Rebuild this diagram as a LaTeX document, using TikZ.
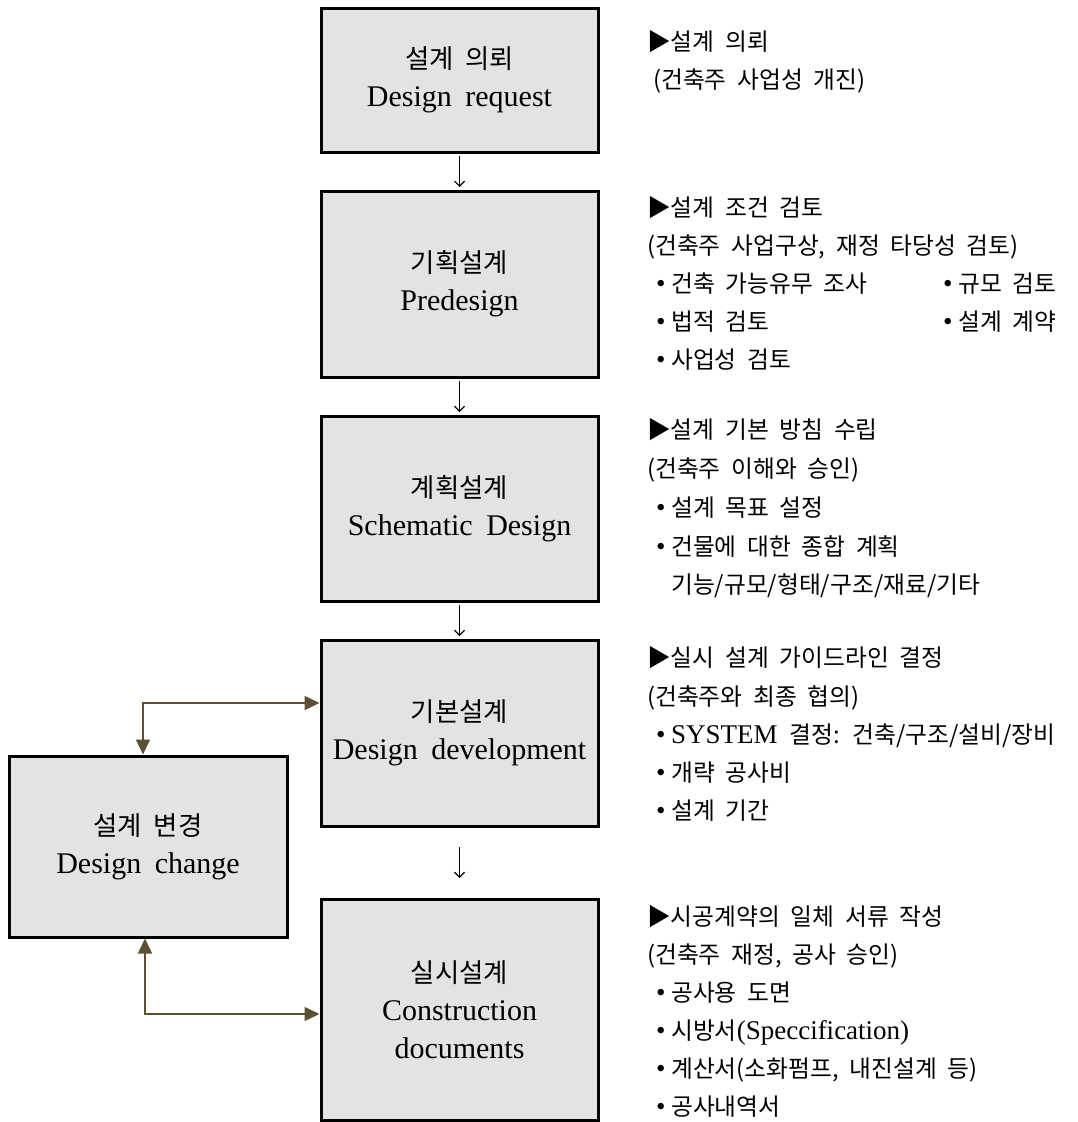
\documentclass[tikz,border=0pt]{standalone}
\usepackage{fontspec}
\setmainfont{Liberation Serif}[WordSpace=1.8]
\newfontfamily\kr{Noto Sans CJK KR}[Scale=0.88,WordSpace=2]
\usetikzlibrary{arrows.meta,calc}
\definecolor{boxfill}{HTML}{E3E3E3}
\definecolor{conn}{HTML}{5C5032}
\newcommand\bul{\makebox[15pt][l]{•}}
\tikzset{
  stage/.style={draw=black, line width=3pt, fill=boxfill, minimum width=277pt,
    align=center, inner sep=0pt, font=\fontsize{30}{38}\selectfont},
  rtext/.style={anchor=base west, inner sep=0pt, font=\fontsize{27}{38}\selectfont},
  darr/.style={draw=black, line width=1.1pt, -{Straight Barb[length=5pt,width=10pt]}},
  bconn/.style={draw=conn, line width=1.6pt, {Triangle[length=15pt,width=14pt]}-{Triangle[length=15pt,width=14pt]}}
}
\newcommand\rl[4]{\node[rtext] (#1) at (#2,#3) {#4};}
\begin{document}
\begin{tikzpicture}[x=1pt,y=-1pt]
\useasboundingbox (0,0) rectangle (1078,1122);
% stage boxes
\node[stage, minimum height=144pt] (b1) at (459.5,80) {{\kr 설계 의뢰}\\Design request};
\node[stage, minimum height=186pt] (b2) at (459.5,284) {{\kr 기획설계}\\Predesign};
\node[stage, minimum height=185pt] (b3) at (459.5,508.5) {{\kr 계획설계}\\Schematic Design};
\node[stage, minimum height=186pt] (b4) at (459.5,733) {{\kr 기본설계}\\Design development};
\node[stage, minimum height=221pt] (b5) at (459.5,1009.5) {{\kr 실시설계}\\Construction\\documents};
\node[stage, minimum width=278pt, minimum height=181pt] (dc) at (148,846.5) {{\kr 설계 변경}\\Design change};
% down arrows
\foreach \a/\b in {b1/b2,b2/b3,b3/b4,b4/b5}{
  \coordinate (m-\a) at ($(\a.south)!0.5!(\b.north)$);
  \draw[darr] ([yshift=15.5pt]m-\a) -- ([yshift=-15.5pt]m-\a);
}
% design change connectors
\coordinate (c1) at (143,703);
\coordinate (c2) at (145,1014);
\draw[bconn] (dc.north -| c1) -- (c1) -- (c1 -| b4.west);
\draw[bconn] (dc.south -| c2) -- (c2) -- (c2 -| b5.west);
% right-hand texts
\rl{r1a}{647}{50}{\kr ▶설계 의뢰}
\rl{r1b}{653}{88}{\kr (건축주 사업성 개진)}
\rl{r2a}{647}{216}{\kr ▶설계 조건 검토}
\rl{r2b}{647}{254}{\kr (건축주 사업구상, 재정 타당성 검토)}
\rl{r2c}{656}{292}{\bul{\kr 건축 가능유무 조사}}
\rl{r2d}{943}{292}{\bul{\kr 규모 검토}}
\rl{r2e}{656}{330}{\bul{\kr 법적 검토}}
\rl{r2f}{943}{330}{\bul{\kr 설계 계약}}
\rl{r2g}{656}{368}{\bul{\kr 사업성 검토}}
\rl{r3a}{647}{438}{\kr ▶설계 기본 방침 수립}
\rl{r3b}{647}{477}{\kr (건축주 이해와 승인)}
\rl{r3c}{656}{516}{\bul{\kr 설계 목표 설정}}
\rl{r3d}{656}{555}{\bul{\kr 건물에 대한 종합 계획}}
\rl{r3e}{671}{593}{\kr 기능/규모/형태/구조/재료/기타}
\rl{r4a}{647}{666}{\kr ▶실시 설계 가이드라인 결정}
\rl{r4b}{647}{705}{\kr (건축주와 최종 협의)}
\rl{r4c}{656}{743}{\bul SYSTEM {\kr 결정: 건축/구조/설비/장비}}
\rl{r4d}{656}{781}{\bul{\kr 개략 공사비}}
\rl{r4e}{656}{819}{\bul{\kr 설계 기간}}
\rl{r5a}{647}{925}{\kr ▶시공계약의 일체 서류 작성}
\rl{r5b}{647}{963}{\kr (건축주 재정, 공사 승인)}
\rl{r5c}{656}{1001}{\bul{\kr 공사용 도면}}
\rl{r5d}{656}{1039}{\bul{\kr 시방서}(Speccification)}
\rl{r5e}{656}{1077}{\bul{\kr 계산서(소화펌프, 내진설계 등)}}
\rl{r5f}{656}{1115}{\bul{\kr 공사내역서}}
\end{tikzpicture}
\end{document}
